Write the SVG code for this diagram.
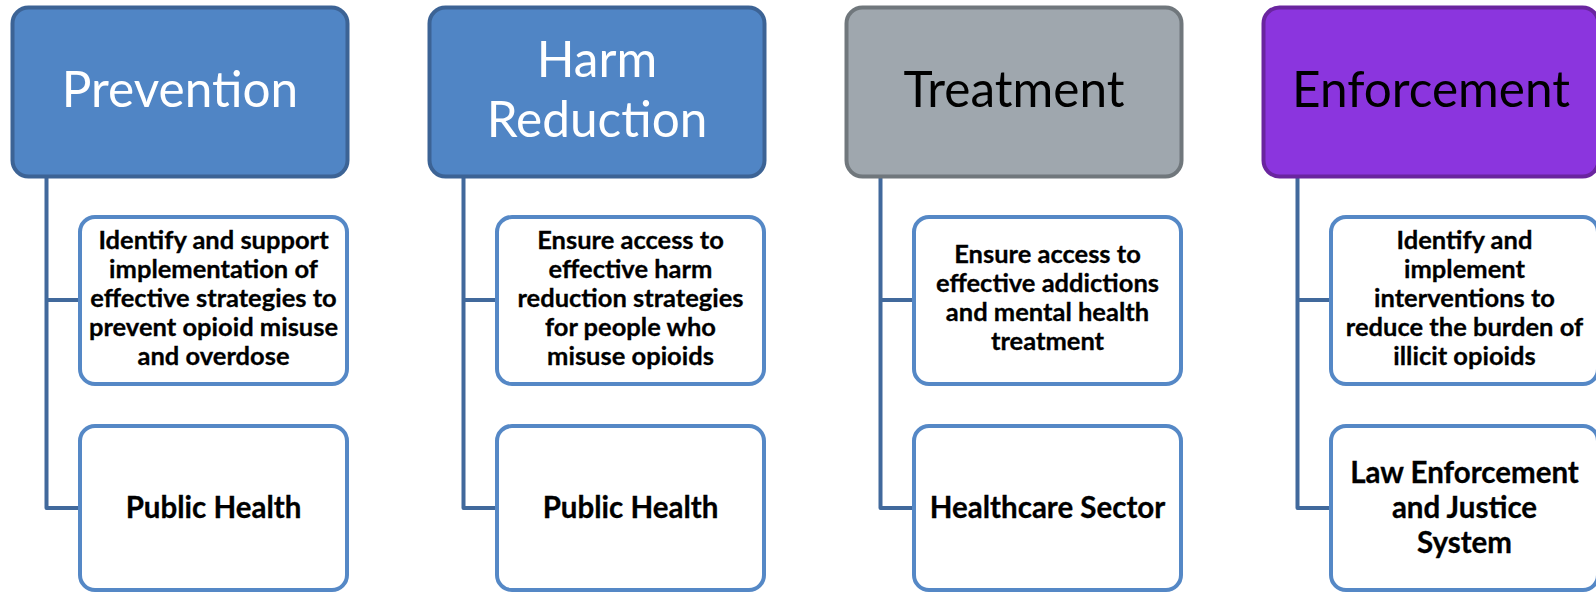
<svg xmlns="http://www.w3.org/2000/svg" width="1596" height="593" viewBox="0 0 1596 593">
<style>
.hdr{stroke-width:4}
.blue{fill:#5085c5;stroke:#3c6395}
.gray{fill:#9fa7ae;stroke:#70777c}
.purple{fill:#8b35de;stroke:#6a259f}
.child{fill:#ffffff;stroke:#5588c6;stroke-width:4}
.conn{fill:none;stroke:#41699c;stroke-width:4;stroke-linejoin:round}
.ht{font-family:Lato,"Liberation Sans",sans-serif;font-size:49.5px;text-anchor:middle}
.ct{font-family:Lato,"Liberation Sans",sans-serif;font-weight:bold;font-size:25.5px;text-anchor:middle;fill:#000;stroke:#000;stroke-width:0.3}
.bt{font-family:Lato,"Liberation Sans",sans-serif;font-weight:bold;font-size:29.5px;text-anchor:middle;fill:#000;stroke:#000;stroke-width:0.3}
</style>
<g id="connectors">
<path class="conn" d="M46.5 176V508H80M46.5 300H80"/>
<path class="conn" d="M463.5 176V508H497M463.5 300H497"/>
<path class="conn" d="M880.5 176V508H914M880.5 300H914"/>
<path class="conn" d="M1297.5 176V508H1331M1297.5 300H1331"/>
</g>
<g id="prevention">
<rect class="hdr blue" x="12.5" y="7.5" width="335" height="169" rx="16"/>
<text class="ht" x="180" y="107" fill="#fff">Prevention</text>
</g>
<g id="prevention-goal">
<rect class="child" x="80" y="217" width="267" height="167" rx="15"/>
<text class="ct" x="213.5"><tspan x="213.5" y="249">Identify and support</tspan><tspan x="213.5" y="278">implementation of</tspan><tspan x="213.5" y="307">effective strategies to</tspan><tspan x="213.5" y="336">prevent opioid misuse</tspan><tspan x="213.5" y="365">and overdose</tspan></text>
</g>
<g id="prevention-sector">
<rect class="child" x="80" y="426" width="267" height="164" rx="15"/>
<text class="bt" x="213.5" y="518">Public Health</text>
</g>
<g id="harm-reduction">
<rect class="hdr blue" x="429.5" y="7.5" width="335" height="169" rx="16"/>
<text class="ht" fill="#fff"><tspan x="597" y="77">Harm</tspan><tspan x="597" y="137">Reduction</tspan></text>
</g>
<g id="harm-goal">
<rect class="child" x="497" y="217" width="267" height="167" rx="15"/>
<text class="ct"><tspan x="630.5" y="249">Ensure access to</tspan><tspan x="630.5" y="278">effective harm</tspan><tspan x="630.5" y="307">reduction strategies</tspan><tspan x="630.5" y="336">for people who</tspan><tspan x="630.5" y="365">misuse opioids</tspan></text>
</g>
<g id="harm-sector">
<rect class="child" x="497" y="426" width="267" height="164" rx="15"/>
<text class="bt" x="630.5" y="518">Public Health</text>
</g>
<g id="treatment">
<rect class="hdr gray" x="846.5" y="7.5" width="335" height="169" rx="16"/>
<text class="ht" x="1014" y="107" fill="#000">Treatment</text>
</g>
<g id="treatment-goal">
<rect class="child" x="914" y="217" width="267" height="167" rx="15"/>
<text class="ct"><tspan x="1047.5" y="263">Ensure access to</tspan><tspan x="1047.5" y="292">effective addictions</tspan><tspan x="1047.5" y="321">and mental health</tspan><tspan x="1047.5" y="350">treatment</tspan></text>
</g>
<g id="treatment-sector">
<rect class="child" x="914" y="426" width="267" height="164" rx="15"/>
<text class="bt" x="1047.5" y="518">Healthcare Sector</text>
</g>
<g id="enforcement">
<rect class="hdr purple" x="1263.5" y="7.5" width="335" height="169" rx="16"/>
<text class="ht" x="1431" y="107" fill="#000">Enforcement</text>
</g>
<g id="enforcement-goal">
<rect class="child" x="1331" y="217" width="267" height="167" rx="15"/>
<text class="ct"><tspan x="1464.5" y="249">Identify and</tspan><tspan x="1464.5" y="278">implement</tspan><tspan x="1464.5" y="307">interventions to</tspan><tspan x="1464.5" y="336">reduce the burden of</tspan><tspan x="1464.5" y="365">illicit opioids</tspan></text>
</g>
<g id="enforcement-sector">
<rect class="child" x="1331" y="426" width="267" height="164" rx="15"/>
<text class="bt"><tspan x="1464.5" y="483">Law Enforcement</tspan><tspan x="1464.5" y="518">and Justice</tspan><tspan x="1464.5" y="553">System</tspan></text>
</g>
</svg>
